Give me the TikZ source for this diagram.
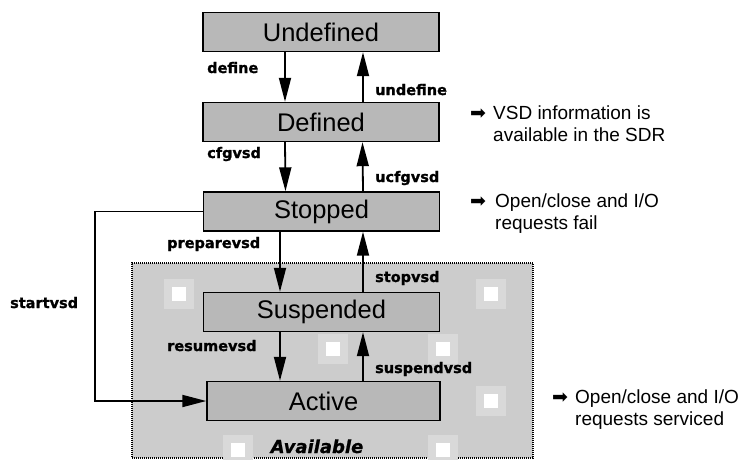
\documentclass[tikz,border=0pt]{standalone}
\usepackage{fontspec}
\setmainfont{Liberation Sans}
\newfontfamily\lblfont{DejaVu Sans Bold}[FakeBold=1.2]
\newfontfamily\arealblfont{DejaVu Sans Bold Oblique}[FakeBold=0.8]
\newfontfamily\symfont{DejaVu Sans}
\usetikzlibrary{arrows.meta}
\definecolor{boxgray}{gray}{0.72}
\definecolor{regiongray}{gray}{0.80}
\begin{document}
\begin{tikzpicture}[x=1pt,y=-1pt,
  statebox/.style={draw=black, line width=1.4pt, fill=boxgray, minimum width=236pt,
    minimum height=39pt, inner sep=0pt, font=\fontsize{25.5}{28}\selectfont},
  trans/.style={line width=1.8pt, -{Triangle[length=24pt,width=12pt]}},
  lbl/.style={inner sep=0pt, anchor=base west, font=\lblfont\fontsize{14.5}{16}\selectfont},
  note/.style={inner sep=0pt, anchor=north west, align=left, font=\fontsize{19}{22}\selectfont},
  notearrow/.style={inner sep=0pt, font=\symfont\fontsize{19}{20}\selectfont},
  hole/.style={fill=white, minimum size=14pt, inner sep=0pt},
  halo/.style={minimum size=30pt, inner sep=0pt},
]
\useasboundingbox (0,0) rectangle (740,459);
\fill[white] (0,0) rectangle (740,459);

% region holding the available states
\node[draw=black, fill=regiongray, line width=1.6pt, dash pattern=on 1pt off 1pt,
      minimum width=401pt, minimum height=195pt, inner sep=0pt] (avail) at (332.5,360.5) {};

% light patches in the region's screen
\foreach \px/\py [count=\i] in {179/294, 491/294, 333/349, 443/349, 491/401, 238/450, 443/450} {
  \node[halo, fill=white!25!regiongray] (halo\i) at (\px,\py) {};
  \node[hole] (hole\i) at (\px,\py) {};
}

\node[anchor=base, inner sep=0pt, font=\arealblfont\fontsize{18}{20}\selectfont]
  (availlbl) at (317,453) {Available};

% states
\node[statebox] (U)  at (321,32)    {Undefined};
\node[statebox] (D)  at (321,122)   {Defined};
\node[statebox] (S)  at (321.5,211.5) {Stopped};
\node[statebox] (Su) at (321.5,312) {Suspended};
\node[statebox, minimum width=233pt] (A) at (323.5,401) {Active};

% transitions
\draw[trans] ([xshift=-36pt]U.south) -- ([xshift=-36pt]D.north);
\draw[trans] ([xshift=42pt]D.north) -- ([xshift=42pt]U.south);
\draw[trans] ([xshift=-36pt]D.south) -- ([xshift=-36pt]S.north);
\draw[trans] ([xshift=41.5pt]S.north) -- ([xshift=41.5pt]D.south);
\draw[trans] ([xshift=-41.5pt]S.south) -- ([xshift=-41.5pt]Su.north);
\draw[trans] ([xshift=41.5pt]Su.north) -- ([xshift=41.5pt]S.south);
\draw[trans] ([xshift=-41.5pt]Su.south) -- ([xshift=-43.5pt]A.north);
\draw[trans] ([xshift=39.5pt]A.north) -- ([xshift=41.5pt]Su.south);
\draw[trans] (S.west) -- ++(-108,0) |- (A.west);

% transition labels
\node[lbl] (l1) at (207,73)  {define};
\node[lbl] (l2) at (375,95)  {undefine};
\node[lbl] (l3) at (207,158) {cfgvsd};
\node[lbl] (l4) at (375,182) {ucfgvsd};
\node[lbl] (l5) at (167,248) {preparevsd};
\node[lbl] (l6) at (375,282) {stopvsd};
\node[lbl] (l7) at (167,351) {resumevsd};
\node[lbl] (l8) at (375,373) {suspendvsd};
\node[lbl] (l9) at (10,308)  {startvsd};

% notes
\node[notearrow] (a1) at (478,114) {➡};
\node[note] (n1) at (493,106) {VSD information is\\available in the SDR};
\node[notearrow] (a2) at (478,202) {➡};
\node[note] (n2) at (495,194) {Open/close and I/O\\requests fail};
\node[notearrow] (a3) at (560,398) {➡};
\node[note] (n3) at (575,390) {Open/close and I/O\\requests serviced};
\end{tikzpicture}
\end{document}
